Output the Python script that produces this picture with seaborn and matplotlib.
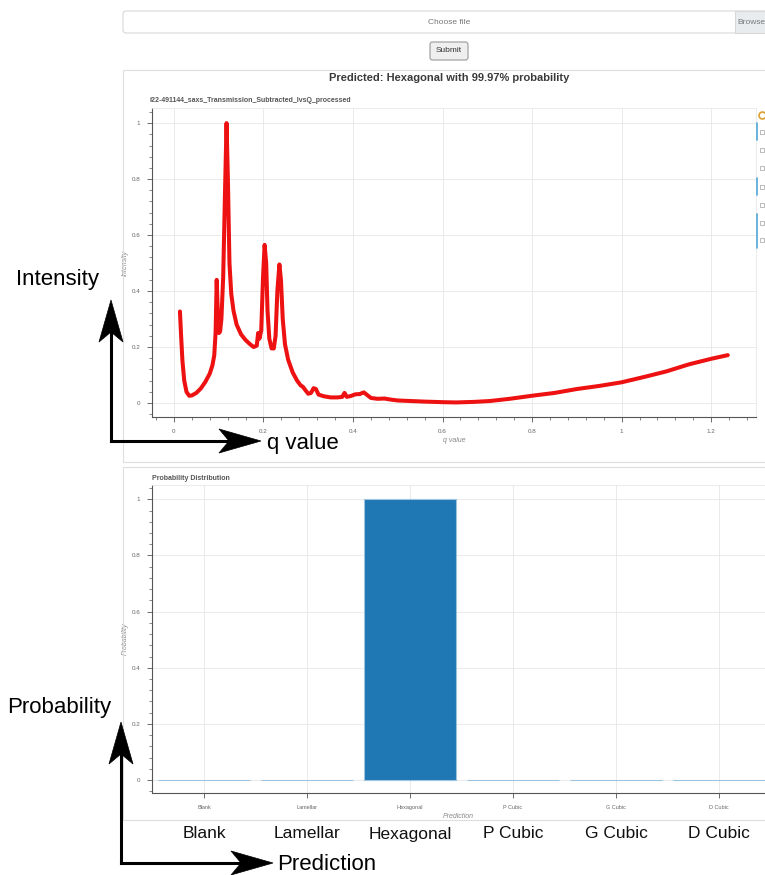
import seaborn as sns
import matplotlib.pyplot as plt
from matplotlib.patches import FancyBboxPatch, Rectangle, Polygon
from matplotlib.lines import Line2D
from matplotlib.ticker import MultipleLocator, FuncFormatter
from matplotlib.transforms import blended_transform_factory

# SAXS curve
q_value = [0.0134, 0.016, 0.019, 0.023, 0.028, 0.034, 0.040, 0.050, 0.060, 0.070,
           0.080, 0.086, 0.090, 0.093, 0.0955, 0.098, 0.1005, 0.103, 0.106, 0.110,
           0.114, 0.1175, 0.1205, 0.124, 0.128, 0.133, 0.140, 0.150, 0.160, 0.170,
           0.178, 0.185, 0.188, 0.191, 0.195, 0.199, 0.2025, 0.206, 0.209, 0.213,
           0.218, 0.223, 0.227, 0.231, 0.2355, 0.239, 0.243, 0.248, 0.255, 0.265,
           0.275, 0.283, 0.288, 0.294, 0.300, 0.306, 0.312, 0.317, 0.323, 0.335,
           0.350, 0.365, 0.376, 0.381, 0.386, 0.395, 0.405, 0.415, 0.424, 0.432,
           0.440, 0.455, 0.470, 0.485, 0.500, 0.530, 0.560, 0.600, 0.630, 0.670,
           0.705, 0.750, 0.800, 0.850, 0.900, 0.950, 1.000, 1.050, 1.100, 1.150,
           1.200, 1.237]
intensity = [0.327, 0.24, 0.15, 0.08, 0.04, 0.026, 0.027, 0.036, 0.052, 0.075,
             0.105, 0.135, 0.17, 0.25, 0.44, 0.32, 0.25, 0.255, 0.30, 0.45,
             0.75, 1.0, 0.80, 0.50, 0.39, 0.33, 0.28, 0.245, 0.225, 0.21,
             0.20, 0.205, 0.25, 0.23, 0.26, 0.45, 0.565, 0.50, 0.33, 0.23,
             0.195, 0.195, 0.24, 0.40, 0.495, 0.44, 0.30, 0.21, 0.155, 0.11,
             0.08, 0.063, 0.058, 0.045, 0.033, 0.036, 0.053, 0.05, 0.03, 0.024,
             0.02, 0.02, 0.022, 0.036, 0.022, 0.025, 0.031, 0.032, 0.038, 0.028,
             0.018, 0.015, 0.016, 0.012, 0.009, 0.007, 0.005, 0.003, 0.002, 0.004,
             0.007, 0.015, 0.026, 0.036, 0.05, 0.061, 0.074, 0.093, 0.113, 0.138,
             0.158, 0.171]

predictions = ["Blank", "Lamellar", "Hexagonal", "P Cubic", "G Cubic", "D Cubic"]
probability = [0.0001, 0.0001, 0.9997, 0.0000, 0.0001, 0.0000]

title = "Predicted: Hexagonal with 99.97% probability"
file_name = "i22-491144_saxs_Transmission_Subtracted_IvsQ_processed"

W, H = 765, 875
sns.set_theme(style="white")
plt.rcParams['font.family'] = ['Liberation Sans', 'DejaVu Sans']

fig = plt.figure(figsize=(W / 100, H / 100), dpi=100)


def px(x, y):
    return (x / W, 1 - y / H)


def box(left, top, right, bottom):
    return [left / W, 1 - bottom / H, (right - left) / W, (bottom - top) / H]


def style_axes(ax):
    for side in ["left", "bottom"]:
        ax.spines[side].set_color("#555555")
        ax.spines[side].set_linewidth(0.8)
    for side in ["top", "right"]:
        ax.spines[side].set_color("#e8e8e8")
        ax.spines[side].set_linewidth(0.6)
    ax.tick_params(which="both", direction="out", colors="#555555",
                   labelsize=4.5, labelcolor="#666666", pad=5)
    ax.tick_params(which="major", length=3.5, width=0.6)
    ax.tick_params(which="minor", length=2, width=0.5)
    ax.tick_params(axis="y", which="both", left=True)
    ax.tick_params(axis="x", which="both", bottom=True)
    ax.yaxis.set_major_locator(MultipleLocator(0.2))
    ax.yaxis.set_minor_locator(MultipleLocator(0.04))
    ax.yaxis.set_major_formatter(FuncFormatter(lambda v, p: f"{v:g}"))
    ax.grid(True, which="major", color="#e6e6e6", lw=0.6)
    ax.set_axisbelow(True)


def stealth_arrow(start, tip, length=42, half=12, notch=10):
    # black shaft plus a concave (stealth) arrow head, in page pixels
    sx, sy = start
    tx, ty = tip
    d = ((tx - sx) ** 2 + (ty - sy) ** 2) ** 0.5
    ux, uy = (tx - sx) / d, (ty - sy) / d
    nx, ny = -uy, ux
    bx, by = tx - ux * length, ty - uy * length
    mx, my = bx + ux * notch, by + uy * notch
    fig.add_artist(Line2D([sx / W, mx / W], [1 - sy / H, 1 - my / H],
                          transform=fig.transFigure, color="black", lw=2.2,
                          solid_capstyle="projecting"))
    head = [px(tx, ty), px(bx + nx * half, by + ny * half), px(mx, my),
            px(bx - nx * half, by - ny * half)]
    fig.add_artist(Polygon(head, closed=True, transform=fig.transFigure,
                           fc="black", ec="black", lw=0.5))


# page chrome: file chooser, submit button, panel borders
fig.add_artist(FancyBboxPatch(px(123, 33), 650 / W, 22 / H, boxstyle="round,pad=0,rounding_size=0.004",
                              transform=fig.transFigure, fc="white", ec="#d8d8d8", lw=0.8))
fig.add_artist(Rectangle(px(735, 33), 40 / W, 22 / H, transform=fig.transFigure,
                         fc="#e9ecef", ec="#d8d8d8", lw=0.8))
fig.text(*px(449, 22), "Choose file", fontsize=6, color="#777777", ha="center", va="center")
fig.text(*px(737, 22), "Browse", fontsize=6, color="#777777", ha="left", va="center")
fig.add_artist(FancyBboxPatch(px(430, 60), 38 / W, 18 / H, boxstyle="round,pad=0,rounding_size=0.003",
                              transform=fig.transFigure, fc="#efefef", ec="#9a9a9a", lw=0.8))
fig.text(*px(449, 51), "Submit", fontsize=6, color="#333333", ha="center", va="center")

fig.add_artist(Rectangle(px(123, 462), 660 / W, 392 / H, transform=fig.transFigure,
                         fc="none", ec="#dedede", lw=0.8))
fig.add_artist(Rectangle(px(123, 820), 660 / W, 353 / H, transform=fig.transFigure,
                         fc="none", ec="#dedede", lw=0.8))

fig.text(*px(449, 78), title, fontsize=8, fontweight="bold", color="#3a3a3a",
         ha="center", va="center")
fig.text(*px(150, 101), file_name, fontsize=5, fontweight="bold", color="#555555",
         ha="left", va="center")
fig.text(*px(152, 479), "Probability Distribution", fontsize=5, fontweight="bold",
         color="#555555", ha="left", va="center")

# toolbar remnants on the right edge
for y0, y1 in [(123, 140), (178, 195), (214, 248)]:
    fig.add_artist(Line2D([757 / W, 757 / W], [1 - y0 / H, 1 - y1 / H],
                          transform=fig.transFigure, color="#4fa8d8", lw=1.2))
for y in [132, 150, 168, 187, 205, 223, 240]:
    fig.add_artist(Line2D([762 / W], [1 - y / H], transform=fig.transFigure,
                          marker="s", ms=3, mfc="none", mec="#b0b0b0", mew=0.6))
fig.add_artist(Line2D([762 / W], [1 - 115 / H], transform=fig.transFigure,
                      marker="o", ms=5, mfc="none", mec="#e0a030", mew=1.2))

# top: intensity vs q
ax1 = fig.add_axes(box(152, 108, 756, 417))
sns.lineplot(x=q_value, y=intensity, ax=ax1, color="#ee1111", lw=2.9, estimator=None, sort=False)
ax1.set_xlim(-0.049, 1.30)
ax1.set_ylim(-0.05, 1.054)
style_axes(ax1)
ax1.xaxis.set_major_locator(MultipleLocator(0.2))
ax1.xaxis.set_minor_locator(MultipleLocator(0.04))
ax1.xaxis.set_major_formatter(FuncFormatter(lambda v, p: f"{v:g}"))
ax1.set_xlabel("q value", fontsize=5, color="#888888", fontstyle="italic", labelpad=2)
ax1.set_ylabel("Intensity", fontsize=5, color="#888888", fontstyle="italic", labelpad=2)

# bottom: probability distribution
ax2 = fig.add_axes(box(152, 485, 765, 793))
sns.barplot(x=predictions, y=probability, ax=ax2, color="#1f77b4", saturation=1,
            width=0.9, edgecolor="#9cc3e0", linewidth=0.8)
ax2.set_xlim(-0.505, 5.447)
ax2.set_ylim(-0.046, 1.051)
style_axes(ax2)
ax2.tick_params(axis="x", which="major", labelsize=4)
ax2.spines["right"].set_visible(False)
ax2.set_xlabel("Prediction", fontsize=5, color="#888888", fontstyle="italic", labelpad=2)
ax2.set_ylabel("Probability", fontsize=5, color="#888888", fontstyle="italic", labelpad=2)

# big category labels under the panel
trans = blended_transform_factory(ax2.transData, fig.transFigure)
for i, name in enumerate(predictions):
    ax2.text(i, 1 - 834 / H, name, transform=trans, fontsize=12.5, color="#111111",
             ha="center", va="center", clip_on=False)

# annotation arrows
stealth_arrow((111, 441), (111, 300))
stealth_arrow((111, 441), (261, 441))
stealth_arrow((121, 863), (121, 722))
stealth_arrow((121, 863), (273, 863))

fig.text(*px(16, 280), "Intensity", fontsize=16, color="black", ha="left", va="center")
fig.text(*px(267, 443), "q value", fontsize=16, color="black", ha="left", va="center")
fig.text(*px(7, 708), "Probability", fontsize=16, color="black", ha="left", va="center")
fig.text(*px(277, 865), "Prediction", fontsize=16, color="black", ha="left", va="center")

plt.savefig("out.png", dpi=100)
